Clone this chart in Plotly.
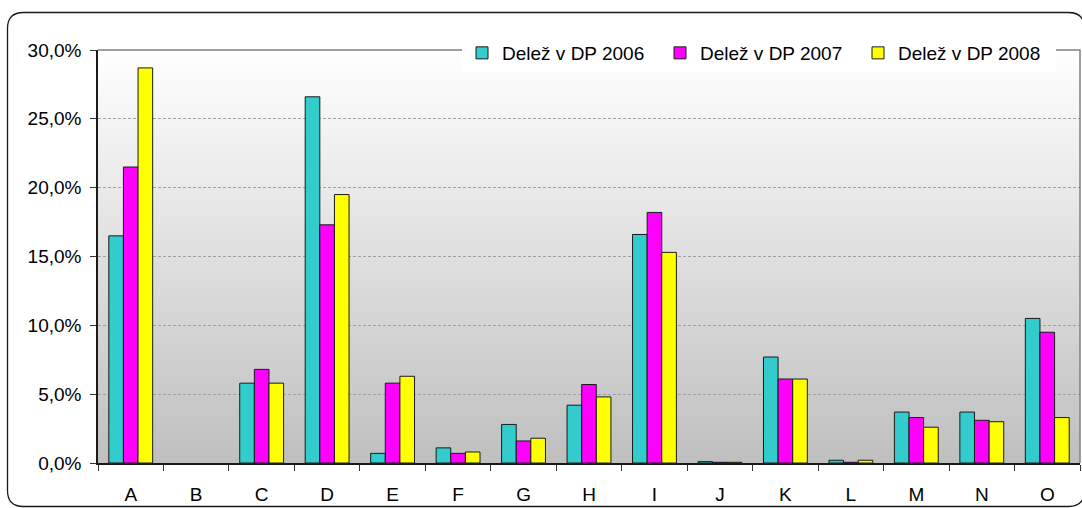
import base64
import plotly.graph_objects as go

categories = ["A", "B", "C", "D", "E", "F", "G", "H", "I", "J", "K", "L", "M", "N", "O"]
share_2006 = [16.5, 0.0, 5.8, 26.6, 0.7, 1.1, 2.8, 4.2, 16.6, 0.1, 7.7, 0.2, 3.7, 3.7, 10.5]
share_2007 = [21.5, 0.0, 6.8, 17.3, 5.8, 0.7, 1.6, 5.7, 18.2, 0.05, 6.1, 0.05, 3.3, 3.1, 9.5]
share_2008 = [28.7, 0.0, 5.8, 19.5, 6.3, 0.8, 1.8, 4.8, 15.3, 0.05, 6.1, 0.2, 2.6, 3.0, 3.3]
series_names = ["Delež v DP 2006", "Delež v DP 2007", "Delež v DP 2008"]
series_colors = ["#33CCCC", "#FF00FF", "#FFFF00"]
y_ticks = [0, 5, 10, 15, 20, 25, 30]
y_tick_labels = ["0,0%", "5,0%", "10,0%", "15,0%", "20,0%", "25,0%", "30,0%"]

W, H = 1082, 508
ML, MR, MT, MB = 98, 2, 50, 45
PW, PH = W - ML - MR, H - MT - MB


def px_x(p):
    return (p - ML) / PW


def px_y(p):
    return (H - MB - p) / PH


fig = go.Figure()
for name, vals, col in zip(series_names, [share_2006, share_2007, share_2008], series_colors):
    fig.add_trace(go.Bar(
        x=categories, y=vals, name=name,
        marker=dict(color=col, line=dict(color="#1a1a1a",
                                         width=[1 if v > 0 else 0 for v in vals])),
    ))

# gradient background for plot area
svg = ('<svg xmlns="http://www.w3.org/2000/svg" width="100" height="100" preserveAspectRatio="none">'
       '<defs><linearGradient id="g" x1="0" y1="0" x2="0" y2="1">'
       '<stop offset="0" stop-color="#ffffff"/><stop offset="1" stop-color="#bfbfbf"/>'
       '</linearGradient></defs><rect width="100" height="100" fill="url(#g)"/></svg>')
src = "data:image/svg+xml;base64," + base64.b64encode(svg.encode()).decode()
fig.add_layout_image(dict(source=src, xref="paper", yref="paper", x=0, y=1,
                          sizex=1, sizey=1, sizing="stretch", layer="below",
                          xanchor="left", yanchor="top"))

# plot area top/right border
fig.add_shape(type="path", xref="paper", yref="paper",
              path="M 0,1 L 1,1 L 1,0", line=dict(color="#808080", width=1.5), layer="above")

# outer rounded frame
r = 16
x0, y0, x1, y1 = 7.5, 12.5, 1084.5, 506.5
pts = [
    ("M", [(x0, y1 - r)]),
    ("L", [(x0, y0 + r)]),
    ("Q", [(x0, y0), (x0 + r, y0)]),
    ("L", [(x1 - r, y0)]),
    ("Q", [(x1, y0), (x1, y0 + r)]),
    ("L", [(x1, y1 - r)]),
    ("Q", [(x1, y1), (x1 - r, y1)]),
    ("L", [(x0 + r, y1)]),
    ("Q", [(x0, y1), (x0, y1 - r)]),
]
path = ""
for cmd, coords in pts:
    path += cmd + " " + " ".join(f"{px_x(a):.5f},{px_y(b):.5f}" for a, b in coords) + " "
path += "Z"
fig.add_shape(type="path", xref="paper", yref="paper", path=path,
              line=dict(color="#1a1a1a", width=1.3), layer="above")

font = dict(family="Liberation Sans, Arial, sans-serif", size=19, color="#000000")
fig.update_layout(
    width=W, height=H,
    margin=dict(l=ML, r=MR, t=MT, b=MB, pad=0, autoexpand=False),
    paper_bgcolor="#ffffff", plot_bgcolor="rgba(0,0,0,0)",
    font=font,
    barmode="group", bargap=0.33, bargroupgap=0,
    showlegend=True,
    legend=dict(orientation="h", x=px_x(462), xanchor="left", y=px_y(53), yanchor="middle",
                bgcolor="#ffffff", borderwidth=0, font=font,
                entrywidth=153, entrywidthmode="pixels", traceorder="normal"),
    xaxis=dict(showline=True, linecolor="#1a1a1a", linewidth=1.5, ticks="outside",
               ticklen=6, tickcolor="#333333", tickson="boundaries", showgrid=False,
               tickfont=font, ticklabelstandoff=13, automargin=False),
    yaxis=dict(range=[0, 30], tickvals=y_ticks, ticktext=y_tick_labels,
               showline=True, linecolor="#1a1a1a", linewidth=1.5, ticks="outside",
               ticklen=6, tickcolor="#333333", showgrid=True, gridcolor="#a0a0a0",
               griddash="3px,2px", gridwidth=1, zeroline=False, tickfont=font,
               ticklabelstandoff=5, automargin=False),
)

fig.write_html("out.html", post_script="document.body.style.margin='0';",
               config={"displayModeBar": False})
